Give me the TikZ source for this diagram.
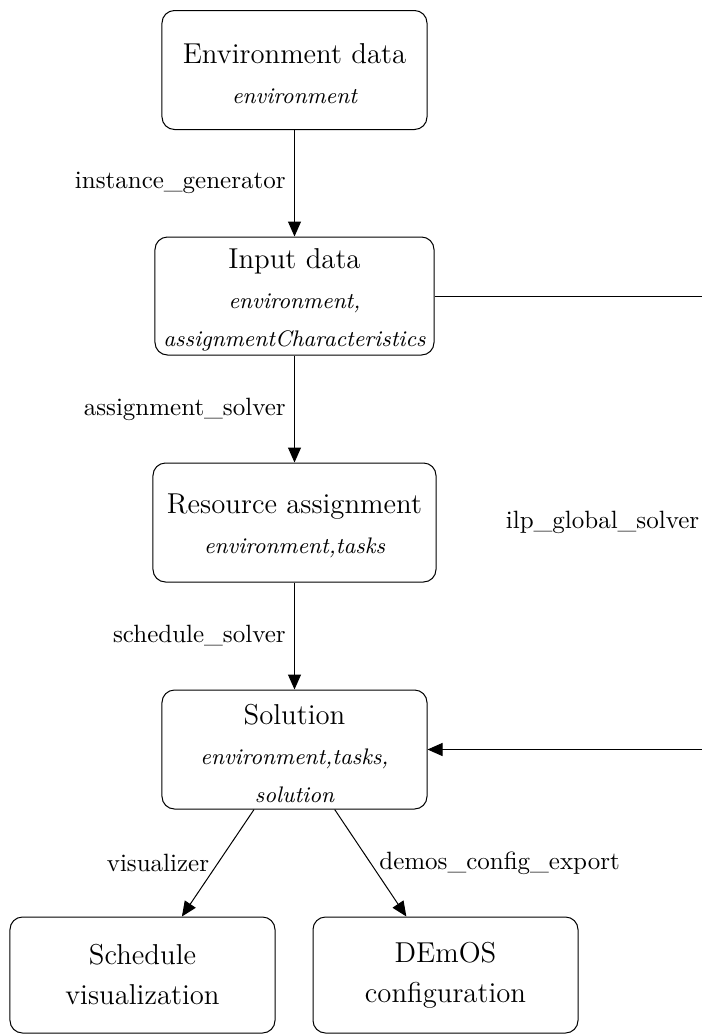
\documentclass[tikz,border=0pt]{standalone}
\usetikzlibrary{arrows.meta}
\newcommand\subt[1]{{\fontsize{9}{14.5}\selectfont\itshape #1}}
\begin{document}
\begin{tikzpicture}[x=0.4pt,y=-0.4pt,
  box/.style={draw, rounded corners=5pt, align=center, inner sep=0pt,
    font=\fontsize{11.5}{16}\selectfont},
  boxtext/.style={align=center, inner sep=0pt, yshift=-1.5pt,
    font=\fontsize{11.5}{16}\selectfont},
  flow/.style={-{Triangle[length=6pt,width=5.2pt]}},
  every node/.append style={text=black}]
\useasboundingbox (0,0) rectangle (701,1034);

% processing stages
\node[box, minimum width=106pt, minimum height=47.6pt,
  label={[boxtext]center:{Environment data\\\subt{environment}}}]
  (env) at (294.5,70) {};
\node[box, minimum width=111.6pt, minimum height=47.2pt,
  label={[boxtext]center:{Input data\\\subt{environment,}\\[-1pt]\subt{assignmentCharacteristics}}}]
  (input) at (294.5,296) {};
\node[box, minimum width=113.2pt, minimum height=47.6pt,
  label={[boxtext]center:{Resource assignment\\\subt{environment,tasks}}}]
  (res) at (294.5,522.5) {};
\node[box, minimum width=106pt, minimum height=47.6pt,
  label={[boxtext]center:{Solution\\\subt{environment,tasks,}\\[-1pt]\subt{solution}}}]
  (sol) at (294.5,749.5) {};
\node[box, minimum width=106pt, minimum height=46.4pt] (sched) at (142.5,975)
  {Schedule\\visualization};
\node[box, minimum width=106pt, minimum height=46.4pt] (demos) at (445.5,975)
  {DEmOS\\configuration};

% tools between the stages
\draw[flow] (env) -- node[left]{instance\_generator} (input);
\draw[flow] (input) -- node[left]{assignment\_solver} (res);
\draw[flow] (res) -- node[left]{schedule\_solver} (sol);
\draw[flow] (sol) -- node[left]{visualizer} (sched);
\draw[flow] (sol) -- node[right]{demos\_config\_export} (demos);

% global ILP shortcut on the right
\coordinate (r) at (708,0);
\draw[flow] (input.east) -- (input.east -| r)
  -- node[left]{ilp\_global\_solver} (sol.east -| r) -- (sol.east);
\end{tikzpicture}
\end{document}
